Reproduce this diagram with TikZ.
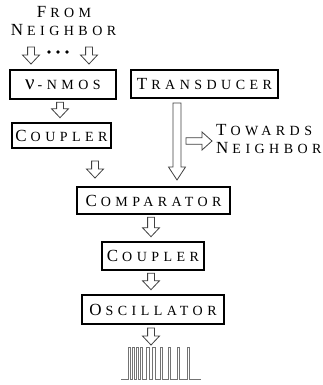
\documentclass[tikz,border=0pt]{standalone}
\usepackage{fontspec}
\setmainfont{Liberation Serif}
\newfontfamily\spacedfont[LetterSpace=32]{Liberation Serif}
\usetikzlibrary{calc}
\newcommand\SC[2]{{\spacedfont\fontsize{17}{18}\selectfont #1\kern4pt\fontsize{14}{15}\selectfont #2}}
\tikzset{
  blk/.style={draw=black, line width=1.6pt, inner sep=0pt, align=center},
  barrow/.style={draw=black!75, line width=0.8pt, fill=white, line join=miter},
  spk/.style={draw=black!55, line width=0.9pt},
  lbl/.style={inner sep=0pt, align=center}
}
% vertical hollow arrow: x, ytop, ybot (pixel units), head length
\newcommand\varrow[4]{%
  \draw[barrow] (#1-3.4,#2) -- (#1+3.4,#2) -- (#1+3.4,#3-#4) -- (#1+8.5,#3-#4) -- (#1,#3)
     -- (#1-8.5,#3-#4) -- (#1-3.4,#3-#4) -- cycle;}
% vertical arrow between two named nodes at given x
\newcommand\narrow[3]{%
  \path let \p1=(#2.south), \p2=(#3.north) in
    \pgfextra{\pgfmathsetmacro\ya{-\y1/1pt+2.5}\pgfmathsetmacro\yb{-\y2/1pt-4.5}\xdef\yA{\ya}\xdef\yB{\yb}};
  \varrow{#1}{\yA}{\yB}{9}}
\begin{document}
\begin{tikzpicture}[x=1pt,y=-1pt]
\useasboundingbox (0,0) rectangle (323,385);
% top label
\node[lbl] (from) at (64,12) {\SC{F}{ROM}};
\node[lbl] (neigh) at (63.5,30) {\SC{N}{EIGHBOR}};
% boxes
\node[blk, minimum width=106pt, minimum height=29pt] (nmos) at (63,84.5)
  {{\spacedfont\fontsize{21}{22}\selectfont ν}\kern3pt{\spacedfont\fontsize{14}{15}\selectfont -NMOS}};
\node[blk, minimum width=147pt, minimum height=28pt] (trans) at (204.5,84) {\SC{T}{RANSDUCER}};
\node[blk, minimum width=99pt, minimum height=25pt] (coup1) at (61.5,135.5) {\SC{C}{OUPLER}};
\node[blk, minimum width=153pt, minimum height=27pt] (comp) at (153.5,200.5) {\SC{C}{OMPARATOR}};
\node[blk, minimum width=102pt, minimum height=28pt] (coup2) at (153,256) {\SC{C}{OUPLER}};
\node[blk, minimum width=142pt, minimum height=29pt] (osc) at (153,309.5) {\SC{O}{SCILLATOR}};
% towards neighbor label
\node[lbl, anchor=west] (tow) at (216,130) {\SC{T}{OWARDS}};
\node[lbl, anchor=west] (tneigh) at (216,148) {\SC{N}{EIGHBOR}};
% dots
\foreach \dx in {49,58,67} \fill (\dx,52) circle (1.9);
% arrows
\varrow{31}{47}{64}{9}
\varrow{89}{47}{64}{9}
\narrow{60}{nmos}{coup1}
\varrow{95}{161}{178}{9}
\narrow{151}{comp}{coup2}
\narrow{151}{coup2}{osc}
\varrow{151}{328}{345}{9}
% long transducer arrow
\draw[barrow] (173,103) -- (181,103) -- (181,167) -- (185.5,167) -- (177,180) -- (168.5,167) -- (173,167) -- cycle;
% towards arrow
\draw[barrow] (186,137.8) -- (202,137.8) -- (202,132) -- (212,141) -- (202,150) -- (202,144.2) -- (186,144.2) -- cycle;
% spikes
\draw[spk] (121,379) foreach \a in {128,132,136.3,140,146.7,152.7,160,168,177.3,187} {
  -- (\a,379) -- (\a,347) -- (\a+2.6,347) -- (\a+2.6,379) } -- (201,379);
\end{tikzpicture}
\end{document}
